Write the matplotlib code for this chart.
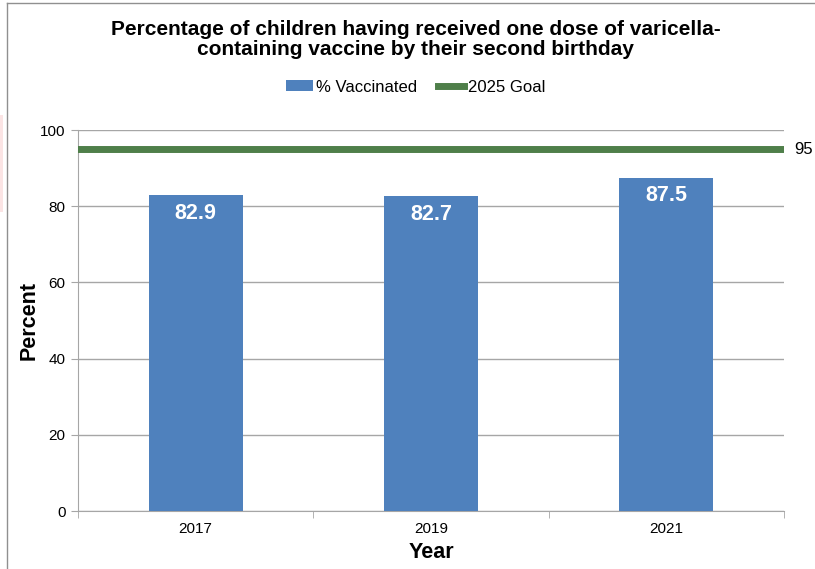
import numpy as np
import matplotlib.pyplot as plt
from matplotlib.lines import Line2D
from matplotlib.patches import Patch, Rectangle

plt.rcParams['font.family'] = ['Liberation Sans', 'DejaVu Sans']

years = ['2017', '2019', '2021']
vaccinated = [82.9, 82.7, 87.5]
goal = 95
y_ticks = [0, 20, 40, 60, 80, 100]

bar_color = '#4F81BD'
goal_color = '#4F7F4A'
grid_color = '#A6A6A6'

fig = plt.figure(figsize=(8.15, 5.69), dpi=100)
ax = fig.add_axes([0.0957, 0.1019, 0.8663, 0.6696])

x = np.arange(len(years))
ax.bar(x, vaccinated, width=0.4, color=bar_color, zorder=3)
for xi, v in zip(x, vaccinated):
    ax.text(xi, v - 4.8, f'{v:.1f}', ha='center', va='center',
            color='white', fontsize=15.5, fontweight='bold', zorder=4)

# goal line across the whole plot area
ax.axhline(goal, color=goal_color, linewidth=5, zorder=4)
ax.text(1.015, goal, str(goal), transform=ax.get_yaxis_transform(),
        ha='left', va='center', fontsize=12, clip_on=False)

ax.set_xlim(-0.5, len(years) - 0.5)
ax.set_ylim(0, 100)
ax.set_yticks(y_ticks)
ax.yaxis.grid(True, color=grid_color, linewidth=1, zorder=0)
ax.set_axisbelow(True)

ax.set_xticks(x)
ax.set_xticklabels(years, fontsize=11)
ax.set_xticks(np.arange(len(years) + 1) - 0.5, minor=True)
ax.tick_params(axis='x', which='major', length=0, pad=8)
ax.tick_params(axis='x', which='minor', length=5, color=grid_color, direction='out')
ax.tick_params(axis='y', length=5, color=grid_color, labelsize=11, pad=4)

for s in ['top', 'right']:
    ax.spines[s].set_visible(False)
for s in ['left', 'bottom']:
    ax.spines[s].set_color(grid_color)

ax.set_ylabel('Percent', fontsize=15.5, fontweight='bold', labelpad=0)
ax.set_xlabel('Year', fontsize=15.5, fontweight='bold', labelpad=4)

fig.text(0.51, 0.931, 'Percentage of children having received one dose of varicella-\ncontaining vaccine by their second birthday',
         ha='center', va='center', fontsize=15, fontweight='bold', linespacing=1.1)

handles = [Patch(facecolor=bar_color, label='% Vaccinated'),
           Line2D([0], [0], color=goal_color, linewidth=5, label='2025 Goal')]
fig.legend(handles=handles, loc='center', bbox_to_anchor=(0.51, 0.847), ncol=2,
           frameon=False, fontsize=12, handlelength=1.6, handleheight=0.6,
           handletextpad=0.2, columnspacing=1.2)

# outer chart border (left and top visible)
fig.add_artist(Line2D([7 / 815, 7 / 815], [0, 1 - 3 / 569], color='#909090', linewidth=1))
fig.add_artist(Line2D([7 / 815, 1], [1 - 3 / 569, 1 - 3 / 569], color='#909090', linewidth=1))
# faint pink remnant at the left edge
fig.add_artist(Rectangle((0, 1 - 212 / 569), 3 / 815, 97 / 569, transform=fig.transFigure,
                         facecolor='#FBE4E4', edgecolor='none'))

fig.savefig('out.png', dpi=100)
